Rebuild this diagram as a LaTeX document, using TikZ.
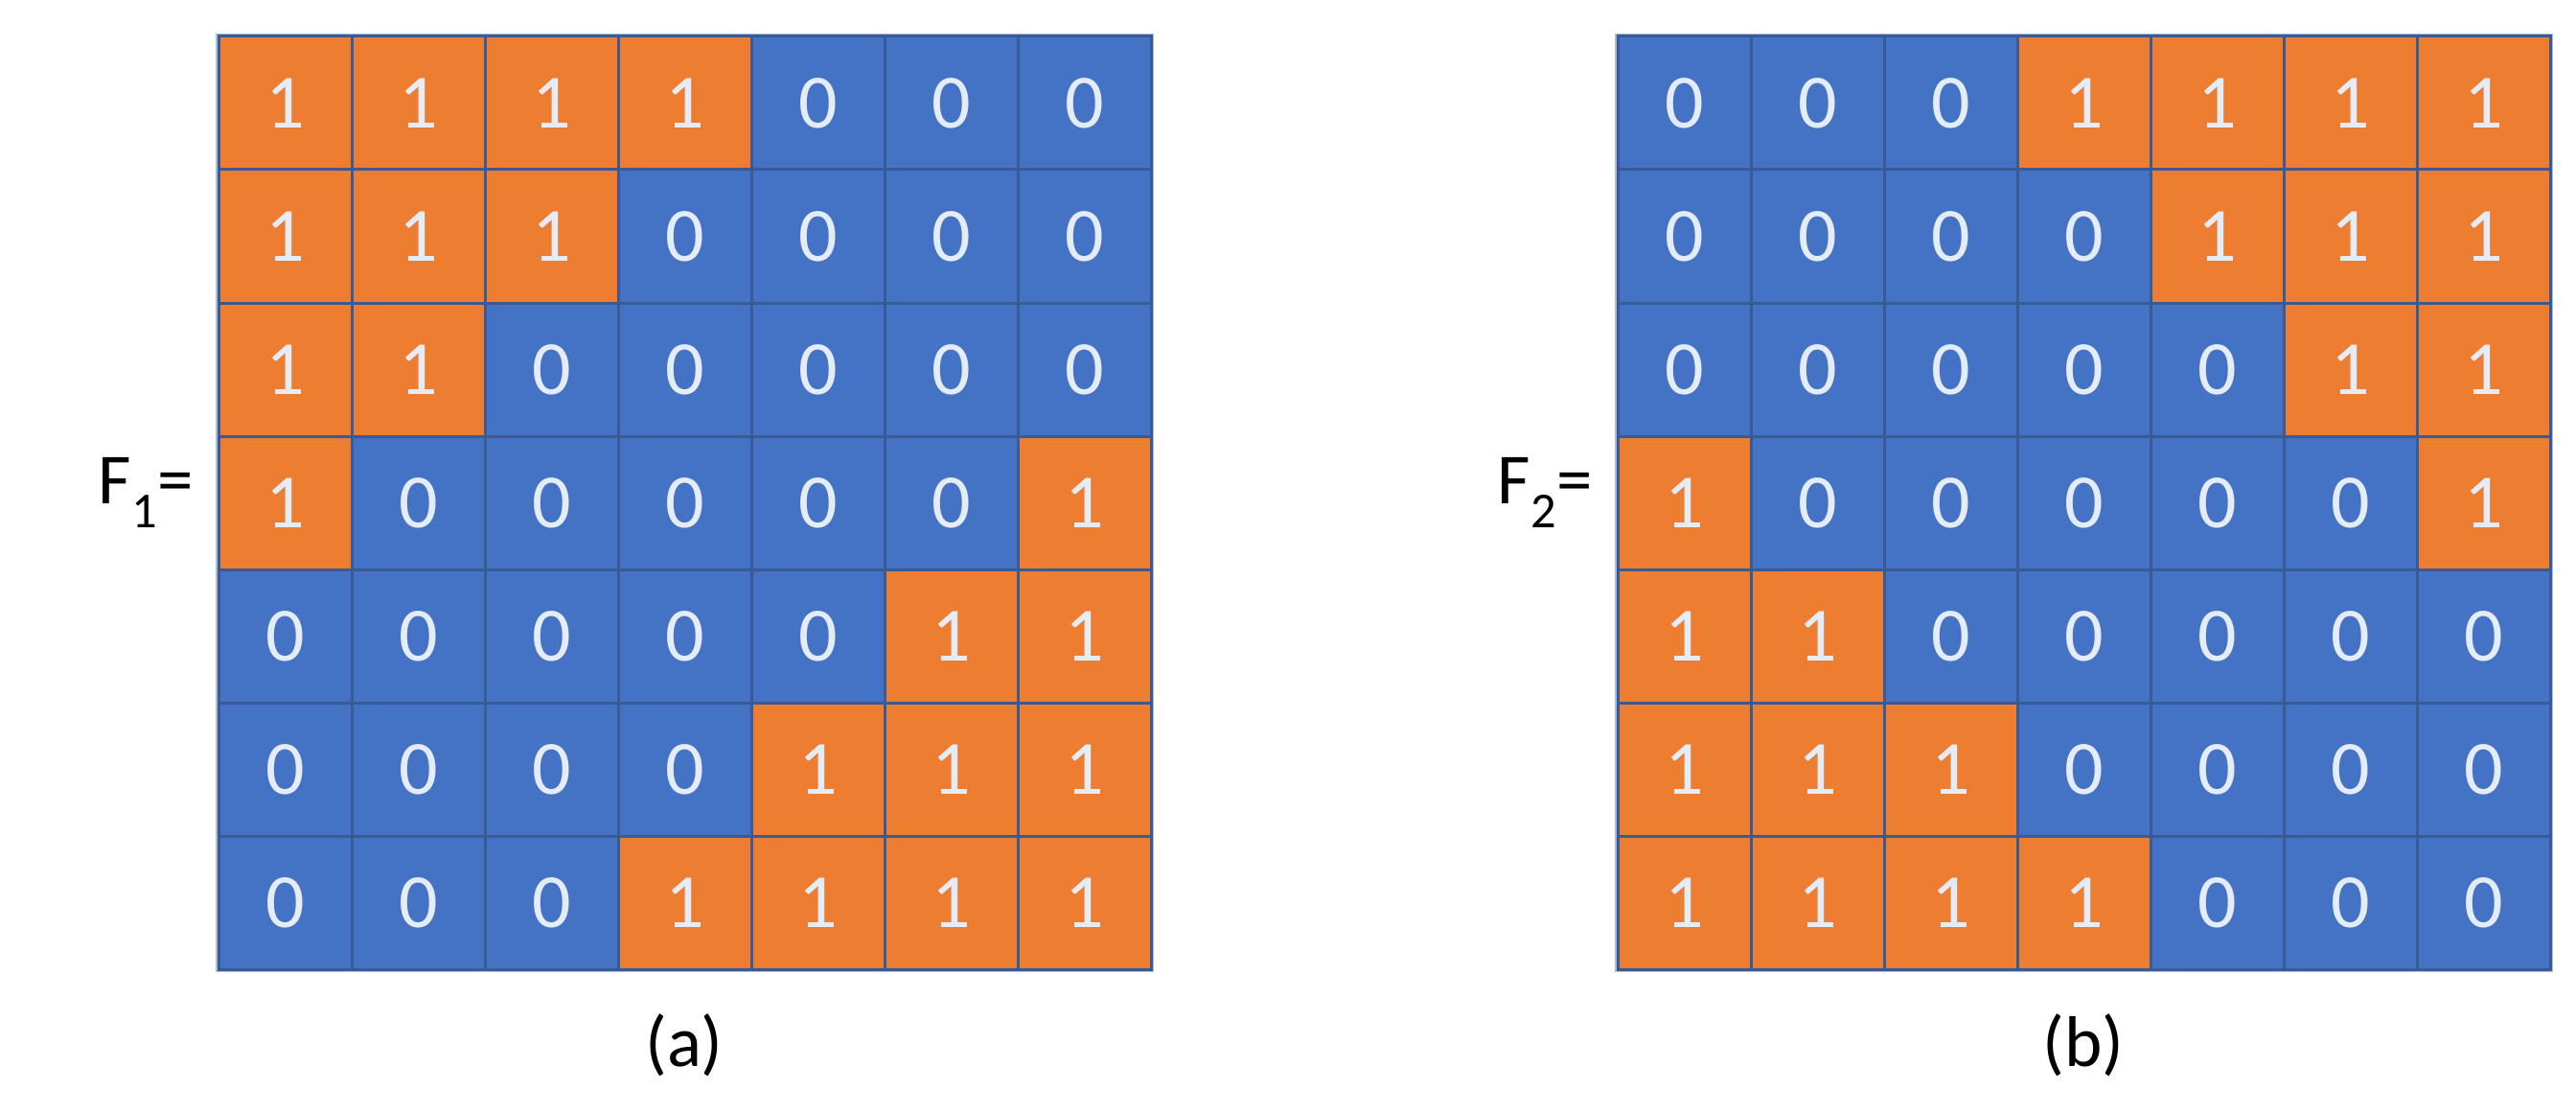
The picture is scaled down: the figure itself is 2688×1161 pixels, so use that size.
\documentclass[tikz,border=0pt]{standalone}
\usepackage{fontspec}
\setmainfont{Carlito}
\definecolor{org}{HTML}{ED7D31}
\definecolor{blu}{HTML}{4472C4}
\definecolor{edg}{HTML}{3A5A95}
\definecolor{brd}{HTML}{A8BEE0}
\definecolor{txt}{HTML}{E4ECF7}
\begin{document}
\begin{tikzpicture}[x=1pt,y=-1pt,
 cell/.style={minimum size=139pt,inner sep=0pt,draw=edg,line width=3pt,text=txt,font=\fontsize{80}{80}\selectfont},
 lab/.style={font=\fontsize{75}{75}\selectfont}]
\useasboundingbox (0,0) rectangle (2688,1161);
\draw[brd,line width=6pt] (228,38) rectangle ++(973,973);
\draw[brd,line width=6pt] (1688,38) rectangle ++(973,973);
\foreach \vals [count=\r from 0] in {{1,1,1,1,0,0,0},{1,1,1,0,0,0,0},{1,1,0,0,0,0,0},{1,0,0,0,0,0,1},{0,0,0,0,0,1,1},{0,0,0,0,1,1,1},{0,0,0,1,1,1,1}}{
 \foreach \v [count=\c from 0] in \vals {
  \ifnum\v=1 \def\fc{org}\else\def\fc{blu}\fi
  \node[cell,fill=\fc] (a-\r-\c) at (228+69.5+139*\c,38+69.5+139*\r) {\v};
 }}
\foreach \vals [count=\r from 0] in {{0,0,0,1,1,1,1},{0,0,0,0,1,1,1},{0,0,0,0,0,1,1},{1,0,0,0,0,0,1},{1,1,0,0,0,0,0},{1,1,1,0,0,0,0},{1,1,1,1,0,0,0}}{
 \foreach \v [count=\c from 0] in \vals {
  \ifnum\v=1 \def\fc{org}\else\def\fc{blu}\fi
  \node[cell,fill=\fc] (b-\r-\c) at (1688+69.5+139*\c,38+69.5+139*\r) {\v};
 }}
\node[lab,anchor=east] (f1) at (205,514) {F\textsubscript{1}=};
\node[lab,anchor=east] (f2) at (1665,514) {F\textsubscript{2}=};
\node[lab] (ca) at (714,1090) {(a)};
\node[lab] (cb) at (2174,1090) {(b)};
\end{tikzpicture}
\end{document}
